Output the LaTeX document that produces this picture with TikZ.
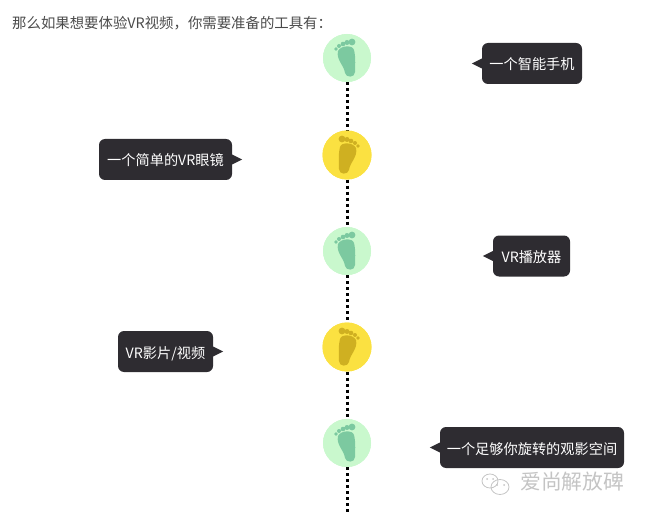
\documentclass[tikz,border=0pt]{standalone}
\usepackage{fontspec}
\setmainfont{Noto Sans CJK SC}
\usetikzlibrary{positioning}
\definecolor{bubblegray}{HTML}{2E2C31}
\definecolor{mintcircle}{HTML}{C9F8CD}
\definecolor{mintfoot}{HTML}{7CC9A0}
\definecolor{suncircle}{HTML}{FBE141}
\definecolor{sunfoot}{HTML}{CFB021}
\definecolor{ink}{HTML}{4A4A4A}
\definecolor{markgray}{HTML}{C4C4C4}
\tikzset{
  spine/.style={draw=black,line width=3pt,dash pattern=on 3pt off 3pt},
  bubble/.style={rounded corners=6pt,fill=bubblegray,inner sep=0pt,
    minimum height=41pt,text=white,text height=13pt,text depth=0pt,
    font=\fontsize{14.2}{16}\selectfont},
  stepmint/.style={circle,fill=mintcircle,minimum size=48pt,inner sep=0pt},
  stepsun/.style={circle,fill=suncircle,minimum size=49pt,inner sep=0pt},
  tip/.style={fill=bubblegray},
  footprint/.pic={
    \fill[pic actions] (-9,-7) .. controls (-6,-13) and (6,-13) .. (7,-8)
      .. controls (9,0) and (8,10) .. (8,14)
      .. controls (8,20) and (-1,20) .. (-2,15)
      .. controls (-3,7) and (-11,2) .. (-9,-7);
    \fill[pic actions] (5,-16) circle (3.4) (0,-15.5) circle (2.5)
      (-4,-14) circle (2.3) (-8,-12) circle (2) (-11,-9) circle (1.8);
  },
}
\begin{document}
\begin{tikzpicture}[x=1pt,y=-1pt]
\useasboundingbox (0,0) rectangle (645,513);

\node[anchor=west,text=ink,inner sep=0pt,font=\fontsize{14.4}{16}\selectfont] (title) at (12,23.5)
  {那么如果想要体验VR视频，你需要准备的工具有：};

% steps on the line
\node[stepmint] (stepone) at (347,58) {};
\node[stepsun] (steptwo) at (347,155) {};
\node[stepmint] (stepthree) at (347,251) {};
\node[stepsun] (stepfour) at (347,347) {};
\node[stepmint] (stepfive) at (347,443) {};
\coordinate (lineend) at (347,513);

\draw[spine] (stepone) -- (steptwo);
\draw[spine] (steptwo) -- (stepthree);
\draw[spine] (stepthree) -- (stepfour);
\draw[spine] (stepfour) -- (stepfive);
\draw[spine] (stepfive) -- (lineend);

% circles again, over the line
\foreach \n/\s in {stepone/stepmint,stepthree/stepmint,stepfive/stepmint,steptwo/stepsun,stepfour/stepsun}
  \node[\s] at (\n) {};
\foreach \n in {stepone,stepthree,stepfive}
  \pic[fill=mintfoot] at (\n) {footprint};
\foreach \n in {steptwo,stepfour}
  \pic[fill=sunfoot,xscale=-1] at (\n) {footprint};

% bubbles
\node[bubble,minimum width=100pt] (phone) at (532,63.5) {一个智能手机};
\node[bubble,minimum width=133pt] (glasses) at (165.5,159.5) {一个简单的VR眼镜};
\node[bubble,minimum width=77pt] (player) at (531.5,256) {VR播放器};
\node[bubble,minimum width=95pt] (film) at (165.5,351.5) {VR影片/视频};
\node[bubble,minimum width=184pt] (room) at (532,447.5) {一个足够你旋转的观影空间};

\fill[tip] ([yshift=5pt]phone.west) -- ++(-10,5) -- ++(10,5) -- cycle;
\fill[tip] ([yshift=5pt]glasses.east) -- ++(10,5) -- ++(-10,5) -- cycle;
\fill[tip] ([yshift=5pt]player.west) -- ++(-10,5) -- ++(10,5) -- cycle;
\fill[tip] ([yshift=5pt]film.east) -- ++(10,5) -- ++(-10,5) -- cycle;
\fill[tip] ([yshift=5pt]room.west) -- ++(-10,5) -- ++(10,5) -- cycle;

% mark bottom right
\node[anchor=west,text=markgray,inner sep=0pt,font=\fontsize{20.8}{23}\selectfont] (mark) at (520,482) {爱尚解放碑};
\draw[markgray,line width=.8pt] (490,481) ellipse (8 and 7);
\draw[markgray,line width=.8pt] (500,487) ellipse (9 and 7.5);
\fill[markgray] (487,479) circle (1) (493,479) circle (1) (497,485) circle (1) (504,485) circle (1);
\end{tikzpicture}
\end{document}
